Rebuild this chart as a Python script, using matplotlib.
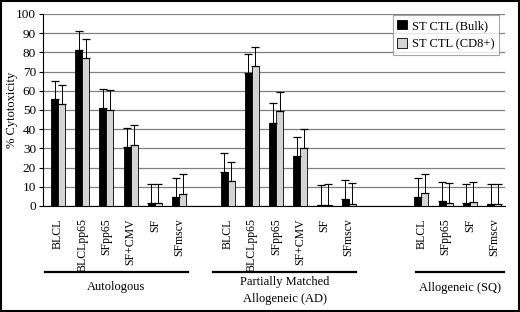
import matplotlib
matplotlib.use("Agg")
import matplotlib.pyplot as plt
import numpy as np

plt.rcParams['font.family'] = ['Liberation Serif', 'DejaVu Serif']

categories = ["BLCL", "BLCLpp65", "SFpp65", "SF+CMV", "SF", "SFmscv",
              "BLCL", "BLCLpp65", "SFpp65", "SF+CMV", "SF", "SFmscv",
              "BLCL", "SFpp65", "SF", "SFmscv"]
slots = [0, 1, 2, 3, 4, 5, 7, 8, 9, 10, 11, 12, 15, 16, 17, 18]

bulk = [55.5, 81.2, 51.2, 30.8, 1.5, 4.6,
        17.6, 69.2, 43.4, 26.0, 0.6, 3.5,
        4.8, 2.4, 1.5, 0.8]
bulk_err = [9.8, 9.8, 9.9, 9.9, 10.2, 10.0,
            10.0, 9.8, 10.1, 9.8, 10.5, 9.9,
            9.8, 10.0, 10.1, 10.6]
cd8 = [53.2, 76.9, 50.2, 32.0, 1.5, 6.5,
       13.0, 73.0, 49.4, 30.4, 0.6, 1.2,
       6.8, 1.5, 2.0, 0.8]
cd8_err = [10.0, 10.0, 10.0, 10.0, 10.2, 10.0,
           9.9, 9.8, 9.8, 9.7, 11.0, 10.6,
           9.9, 10.6, 10.5, 10.6]

groups = ["Autologous", "Partially Matched\nAllogeneic (AD)", "Allogeneic (SQ)"]
group_spans = [(-0.54, 5.37), (6.4, 12.31), (14.77, 18.39)]

legend_labels = ["ST CTL (Bulk)", "ST CTL (CD8+)"]
yticks = list(range(0, 101, 10))

fig = plt.figure(figsize=(5.2, 3.12), dpi=100)
ax = fig.add_axes([43/520, 1-206/312, (505-43)/520, (206-14)/312])

x = np.array(slots, dtype=float)
w = 0.29
ax.bar(x - w/2, bulk, w, color='black', edgecolor='black', linewidth=0.6,
       label=legend_labels[0], zorder=3)
ax.bar(x + w/2, cd8, w, color='#d4d4d4', edgecolor='black', linewidth=0.6,
       label=legend_labels[1], zorder=3)
ax.errorbar(x - w/2, bulk, yerr=[np.zeros(len(bulk)), bulk_err], fmt='none',
            ecolor='black', elinewidth=0.7, capsize=3, capthick=0.9, zorder=4)
ax.errorbar(x + w/2, cd8, yerr=[np.zeros(len(cd8)), cd8_err], fmt='none',
            ecolor='black', elinewidth=0.7, capsize=3, capthick=0.9, zorder=4)

ax.set_ylim(0, 100)
ax.set_xlim(-0.62, 18.45)
ax.set_yticks(yticks)
ax.tick_params(axis='y', labelsize=9.5, length=3, width=0.8, pad=2)
ax.yaxis.grid(True, color='#808080', linewidth=0.9, zorder=0)
ax.set_axisbelow(True)
for s in ['top', 'right']:
    ax.spines[s].set_visible(False)
ax.spines['left'].set_linewidth(0.8)
ax.spines['bottom'].set_linewidth(0.8)
ax.set_xticks(x)
ax.set_xticklabels(categories, rotation=90, fontsize=8.5, va='top', ha='center')
ax.tick_params(axis='x', length=0, pad=9)
ax.set_ylabel("% Cytotoxicity", fontsize=9, va='center')
ax.yaxis.set_label_coords(-0.068, 0.5)

trans = ax.get_xaxis_transform()
label_y = [-0.42, -0.44, -0.425]
for (a, b), g, ly in zip(group_spans, groups, label_y):
    ax.plot([a, b], [-0.344, -0.344], color='black', linewidth=1.6,
            transform=trans, clip_on=False)
    ax.text((a + b) / 2, ly, g, transform=trans, ha='center', va='center',
            fontsize=9, linespacing=1.5)

leg = ax.legend(loc='upper right', bbox_to_anchor=(1.0, 1.025), fontsize=9,
                frameon=True, fancybox=False, edgecolor='#909090',
                handlelength=0.8, handleheight=0.8, handletextpad=0.4,
                borderpad=0.35, labelspacing=0.5)
leg.get_frame().set_linewidth(0.8)

fig.patches.append(plt.Rectangle((0.002, 0.003), 0.996, 0.994, transform=fig.transFigure,
                                 fill=False, edgecolor='black', linewidth=1.5))

fig.savefig("out.png", dpi=100)
